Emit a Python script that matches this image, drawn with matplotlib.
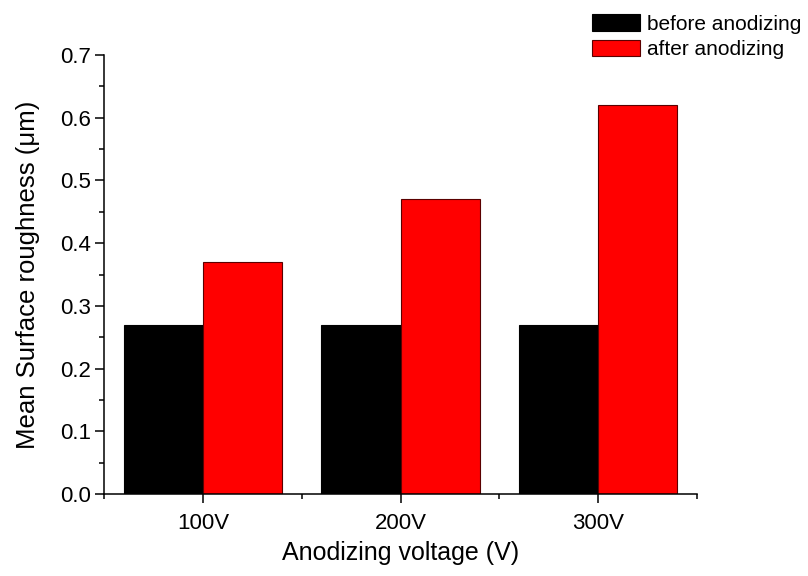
import matplotlib
matplotlib.use('Agg')
import matplotlib.pyplot as plt
import matplotlib.ticker as mticker
import numpy as np

plt.rcParams.update({
    'font.family': ['Liberation Sans', 'DejaVu Sans'],
    'axes.spines.top': False,
    'axes.spines.right': False,
    'axes.linewidth': 1.1,
})

voltages = ['100V', '200V', '300V']
before = [0.27, 0.27, 0.27]
after = [0.37, 0.47, 0.62]

fig = plt.figure(figsize=(8.08, 5.76), dpi=100)
ax = fig.add_axes([104 / 808, 1 - 494 / 576, (697 - 104) / 808, (494 - 55) / 576])

x = np.arange(1, len(voltages) + 1)
w = 0.4
ax.bar(x - w / 2, before, width=w, color='black', edgecolor='black',
       linewidth=0.8, label='before anodizing')
ax.bar(x + w / 2, after, width=w, color='#ff0000', edgecolor='#5a0000',
       linewidth=0.8, label='after anodizing')

ax.set_xlim(0.5, 3.5)
ax.set_ylim(0, 0.7)
ax.set_xticks(x)
ax.set_xticklabels(voltages)
ax.xaxis.set_minor_locator(mticker.FixedLocator([0.5, 1.5, 2.5, 3.5]))
ax.yaxis.set_major_locator(mticker.MultipleLocator(0.1))
ax.yaxis.set_minor_locator(mticker.MultipleLocator(0.05))
ax.yaxis.set_major_formatter(mticker.FormatStrFormatter('%.1f'))

ax.tick_params(which='major', length=6.5, width=1.1, labelsize=16, direction='out')
ax.tick_params(which='minor', length=3.5, width=1.1, direction='out')
ax.tick_params(axis='x', which='major', pad=7)
ax.tick_params(axis='y', which='major', pad=3)

ax.set_xlabel('Anodizing voltage (V)', fontsize=18, labelpad=5)
ax.set_ylabel('Mean Surface roughness (μm)', fontsize=18.5, labelpad=14)

ax.legend(loc='upper left', bbox_to_anchor=(592 / 808, 1 - 14 / 576),
          bbox_transform=fig.transFigure, frameon=False, fontsize=15,
          borderpad=0, borderaxespad=0, handlelength=2.3, handleheight=0.85,
          handletextpad=0.33, labelspacing=0.3)

fig.savefig('out.png', dpi=100)
plt.close()
